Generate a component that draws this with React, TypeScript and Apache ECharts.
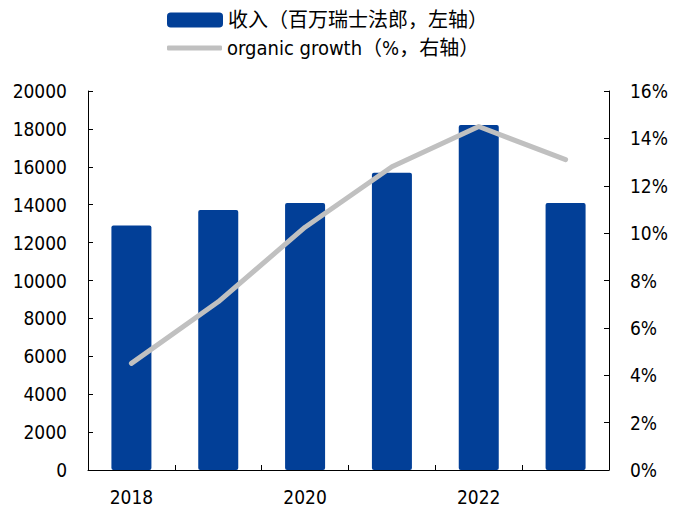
import React, { useEffect, useRef } from "react";
import * as echarts from "echarts";

const years = ["2018", "2019", "2020", "2021", "2022", "2023"];
const revenue = [12900, 13720, 14090, 15680, 18200, 14090];
const organicGrowth = [4.5, 7.1, 10.25, 12.8, 14.5, 13.1];
const revenueName = "收入（百万瑞士法郎，左轴）";
const growthName = "organic growth（%，右轴）";

const FONT = "Tahoma, 'DejaVu Sans Condensed', 'DejaVu Sans', 'Noto Sans CJK SC', sans-serif";

export default function App() {
  const ref = useRef<HTMLDivElement>(null);
  useEffect(() => {
    if (!ref.current) return;
    const chart = echarts.init(ref.current, undefined, { renderer: "svg" });
    const axisCommon = {
      axisLine: { show: true, lineStyle: { color: "#000", width: 1 } },
      axisTick: { show: true, inside: true, length: 5, lineStyle: { color: "#000" } },
      splitLine: { show: false },
    };
    const legendText = { fontSize: 20, color: "#000", fontFamily: FONT };
    chart.setOption({
      animation: false,
      textStyle: { fontFamily: FONT },
      legend: [
        {
          orient: "vertical",
          left: 167,
          top: 10,
          padding: 0,
          itemWidth: 56,
          itemHeight: 15,
          textStyle: legendText,
          data: [{ name: revenueName, icon: "roundRect" }],
        },
        {
          orient: "vertical",
          left: 167,
          top: 38,
          padding: 0,
          itemWidth: 55,
          itemHeight: 5,
          textStyle: legendText,
          data: [{ name: growthName, icon: "roundRect" }],
        },
      ],
      grid: { left: 88, right: 66, top: 91, bottom: 40 },
      xAxis: {
        type: "category",
        data: years,
        boundaryGap: true,
        axisLine: { show: true, lineStyle: { color: "#000", width: 1 } },
        axisTick: { show: true, inside: true, length: 5, interval: 0, lineStyle: { color: "#000" } },
        axisLabel: { interval: 1, fontSize: 19, color: "#000", margin: 17, fontFamily: FONT },
      },
      yAxis: [
        {
          type: "value",
          min: 0,
          max: 20000,
          interval: 2000,
          ...axisCommon,
          axisLabel: {
            fontSize: 19,
            color: "#000",
            margin: 21,
            fontFamily: FONT,
            formatter: (v: number) => String(v),
          },
        },
        {
          type: "value",
          min: 0,
          max: 16,
          interval: 2,
          position: "right",
          ...axisCommon,
          axisLabel: { fontSize: 19, color: "#000", margin: 21, formatter: "{value}%", fontFamily: FONT },
        },
      ],
      series: [
        {
          name: revenueName,
          type: "bar",
          data: revenue,
          yAxisIndex: 0,
          barWidth: 40,
          itemStyle: { color: "#023F97", borderRadius: 2 },
        },
        {
          name: growthName,
          type: "line",
          data: organicGrowth,
          yAxisIndex: 1,
          symbol: "none",
          showSymbol: false,
          lineStyle: { color: "#C0C0C0", width: 5, cap: "round", join: "round" },
          itemStyle: { color: "#C0C0C0" },
        },
      ],
    });
    return () => chart.dispose();
  }, []);
  return <div ref={ref} style={{ width: 675, height: 510, position: "absolute", left: 0, top: 0 }} />;
}
